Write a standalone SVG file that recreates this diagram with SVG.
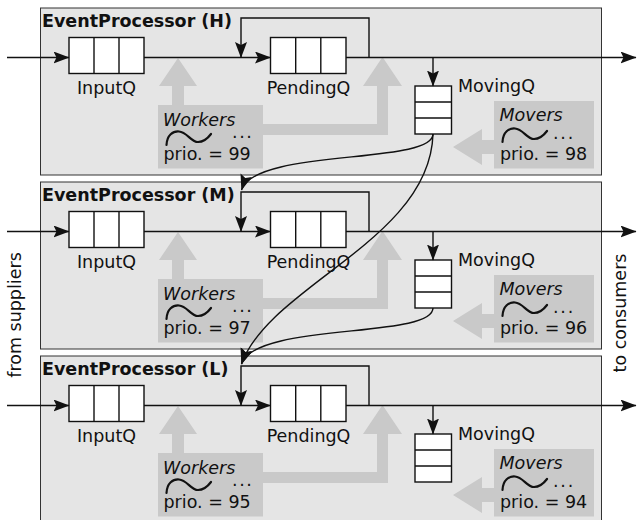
<svg xmlns="http://www.w3.org/2000/svg" width="637" height="520" viewBox="0 0 637 520">
<style>
text{font-family:"DejaVu Sans","Liberation Sans",sans-serif;font-size:17.5px;fill:#111}
.title{font-weight:bold}
.it{font-style:italic}
.panel{fill:#e5e5e5;stroke:#333;stroke-width:1}
.gray{fill:#c9c9c9;stroke:none}
.q{fill:#fff;stroke:#111;stroke-width:1.4}
.ql{stroke:#111;stroke-width:1.4;fill:none}
.tilde{fill:none;stroke:#111;stroke-width:2.2;stroke-linecap:round}
.c{fill:none;stroke:#111;stroke-width:1.4;marker-end:url(#ah)}
.lbl{text-anchor:middle}
</style>
<defs>
<marker id="ah" viewBox="0 0 16 12" refX="15.5" refY="6" markerWidth="16" markerHeight="12" markerUnits="userSpaceOnUse" orient="auto">
<path d="M0,0 L16,6 L0,12 L3,6 Z" fill="#111"/>
</marker>
</defs>

<text transform="translate(21,315) rotate(-90)" class="lbl">from suppliers</text>
<text transform="translate(626,313) rotate(-90)" class="lbl">to consumers</text>

<g id="panel-H">
<rect class="panel" x="40.5" y="8" width="561" height="167"/>
<text class="title" x="42" y="27">EventProcessor (H)</text>
<g id="H-workers">
<path class="gray" d="M172,105 V86 H159 L178,58 L197,86 H184 V105 Z"/>
<path class="gray" d="M263,124 H377 V86 H363 L382.5,57 L402,86 H388 V135 H263 Z"/>
<rect class="gray" x="158" y="105" width="105" height="63.5"/>
<text class="it" x="163" y="126">Workers</text>
<path class="tilde" d="M166.5,145 C167,135 173,131 179,131.5 C187,132 191,142 198,142 C204,142 208,138 211,134"/>
<text x="232" y="138" letter-spacing="1.6">...</text>
<text x="163.5" y="159.5">prio. = 99</text>
</g>
<g id="H-movers">
<path class="gray" d="M494,140 H482 V129 L453,147 L482,165 V154 H494 Z"/>
<rect class="gray" x="494" y="101" width="100" height="67.5"/>
<text class="it" x="499.5" y="121">Movers</text>
<path class="tilde" d="M502.5,142 C503,132 509,128 515,128.5 C523,129 527,139 534,139 C540,139 544,135 547,131"/>
<text x="553" y="139" letter-spacing="1.8">...</text>
<text x="500" y="159.5">prio. = 98</text>
</g>
<g id="H-InputQ">
<rect class="q" x="69" y="37.5" width="75" height="36"/>
<path class="ql" d="M94,37.5 V73.5 M119,37.5 V73.5"/>
<text class="lbl" x="106.5" y="93.5">InputQ</text>
</g>
<g id="H-PendingQ">
<rect class="q" x="270.5" y="37.5" width="75.5" height="36"/>
<path class="ql" d="M295.7,37.5 V73.5 M320.8,37.5 V73.5"/>
<text class="lbl" x="308.5" y="93.5">PendingQ</text>
</g>
<g id="H-MovingQ">
<rect class="q" x="415" y="86" width="36.5" height="48"/>
<path class="ql" d="M415,102 H451.5 M415,118 H451.5"/>
<text x="458" y="92">MovingQ</text>
</g>
</g>

<g id="panel-M" transform="translate(0,174)">
<rect class="panel" x="40.5" y="8" width="561" height="167"/>
<text class="title" x="42" y="27">EventProcessor (M)</text>
<g id="M-workers">
<path class="gray" d="M172,105 V86 H159 L178,58 L197,86 H184 V105 Z"/>
<path class="gray" d="M263,124 H377 V86 H363 L382.5,57 L402,86 H388 V135 H263 Z"/>
<rect class="gray" x="158" y="105" width="105" height="63.5"/>
<text class="it" x="163" y="126">Workers</text>
<path class="tilde" d="M166.5,145 C167,135 173,131 179,131.5 C187,132 191,142 198,142 C204,142 208,138 211,134"/>
<text x="232" y="138" letter-spacing="1.6">...</text>
<text x="163.5" y="159.5">prio. = 97</text>
</g>
<g id="M-movers">
<path class="gray" d="M494,140 H482 V129 L453,147 L482,165 V154 H494 Z"/>
<rect class="gray" x="494" y="101" width="100" height="67.5"/>
<text class="it" x="499.5" y="121">Movers</text>
<path class="tilde" d="M502.5,142 C503,132 509,128 515,128.5 C523,129 527,139 534,139 C540,139 544,135 547,131"/>
<text x="553" y="139" letter-spacing="1.8">...</text>
<text x="500" y="159.5">prio. = 96</text>
</g>
<g id="M-InputQ">
<rect class="q" x="69" y="37.5" width="75" height="36"/>
<path class="ql" d="M94,37.5 V73.5 M119,37.5 V73.5"/>
<text class="lbl" x="106.5" y="93.5">InputQ</text>
</g>
<g id="M-PendingQ">
<rect class="q" x="270.5" y="37.5" width="75.5" height="36"/>
<path class="ql" d="M295.7,37.5 V73.5 M320.8,37.5 V73.5"/>
<text class="lbl" x="308.5" y="93.5">PendingQ</text>
</g>
<g id="M-MovingQ">
<rect class="q" x="415" y="86" width="36.5" height="48"/>
<path class="ql" d="M415,102 H451.5 M415,118 H451.5"/>
<text x="458" y="92">MovingQ</text>
</g>
</g>

<g id="panel-L" transform="translate(0,348)">
<rect class="panel" x="40.5" y="8" width="561" height="180"/>
<text class="title" x="42" y="27">EventProcessor (L)</text>
<g id="L-workers">
<path class="gray" d="M172,105 V86 H159 L178,58 L197,86 H184 V105 Z"/>
<path class="gray" d="M263,124 H377 V86 H363 L382.5,57 L402,86 H388 V135 H263 Z"/>
<rect class="gray" x="158" y="105" width="105" height="63.5"/>
<text class="it" x="163" y="126">Workers</text>
<path class="tilde" d="M166.5,145 C167,135 173,131 179,131.5 C187,132 191,142 198,142 C204,142 208,138 211,134"/>
<text x="232" y="138" letter-spacing="1.6">...</text>
<text x="163.5" y="159.5">prio. = 95</text>
</g>
<g id="L-movers">
<path class="gray" d="M494,140 H482 V129 L453,147 L482,165 V154 H494 Z"/>
<rect class="gray" x="494" y="101" width="100" height="67.5"/>
<text class="it" x="499.5" y="121">Movers</text>
<path class="tilde" d="M502.5,142 C503,132 509,128 515,128.5 C523,129 527,139 534,139 C540,139 544,135 547,131"/>
<text x="553" y="139" letter-spacing="1.8">...</text>
<text x="500" y="159.5">prio. = 94</text>
</g>
<g id="L-InputQ">
<rect class="q" x="69" y="37.5" width="75" height="36"/>
<path class="ql" d="M94,37.5 V73.5 M119,37.5 V73.5"/>
<text class="lbl" x="106.5" y="93.5">InputQ</text>
</g>
<g id="L-PendingQ">
<rect class="q" x="270.5" y="37.5" width="75.5" height="36"/>
<path class="ql" d="M295.7,37.5 V73.5 M320.8,37.5 V73.5"/>
<text class="lbl" x="308.5" y="93.5">PendingQ</text>
</g>
<g id="L-MovingQ">
<rect class="q" x="415" y="86" width="36.5" height="48"/>
<path class="ql" d="M415,102 H451.5 M415,118 H451.5"/>
<text x="458" y="92">MovingQ</text>
</g>
</g>

<g id="connectors">
<g id="H-conn">
<path class="c" d="M7,57.5 H69"/>
<path class="c" d="M144,57.5 H270.5"/>
<path class="c" d="M369,57.5 V18 H241 V57.5"/>
<path class="c" d="M346,57.5 H636"/>
<path class="c" d="M433,57.5 V86"/>
</g>
<g id="M-conn" transform="translate(0,174)">
<path class="c" d="M7,57.5 H69"/>
<path class="c" d="M144,57.5 H270.5"/>
<path class="c" d="M369,57.5 V18 H241 V57.5"/>
<path class="c" d="M346,57.5 H636"/>
<path class="c" d="M433,57.5 V86"/>
</g>
<g id="L-conn" transform="translate(0,348)">
<path class="c" d="M7,57.5 H69"/>
<path class="c" d="M144,57.5 H270.5"/>
<path class="c" d="M369,57.5 V18 H241 V57.5"/>
<path class="c" d="M346,57.5 H636"/>
<path class="c" d="M433,57.5 V86"/>
</g>
<path class="c" d="M433,134 C433,165 255,148 241.5,190"/>
<path class="c" d="M433,134 C430,240 270,285 241.5,364"/>
<path class="c" d="M433,308 C433,339 255,322 241.5,364"/>
</g>
</svg>
